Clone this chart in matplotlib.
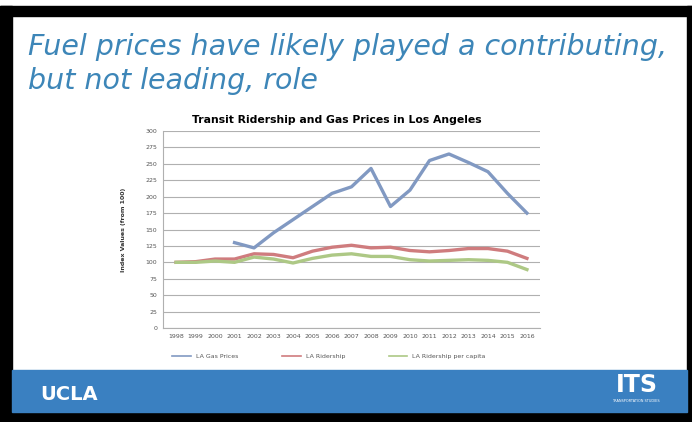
import matplotlib
matplotlib.use("Agg")
from matplotlib import pyplot as plt
from matplotlib.patches import Rectangle

years = list(range(1998, 2017))
gas_years = list(range(2001, 2017))
gas_prices = [130, 122, 145, 165, 185, 205, 215, 243, 185, 210, 255, 265, 252, 238, 205, 175]
ridership = [100, 101, 105, 105, 113, 112, 107, 117, 123, 126, 122, 123, 118, 116, 118, 121, 121, 117, 106]
per_capita = [100, 100, 102, 100, 108, 105, 99, 106, 111, 113, 109, 109, 104, 102, 103, 104, 103, 100, 89]
y_ticks = list(range(0, 301, 25))

W, H = 692, 422
fig = plt.figure(figsize=(W / 100, H / 100), dpi=100)
fig.patch.set_facecolor("white")

# slide frame
def box(x, y, w, h, color):
    fig.patches.append(Rectangle((x / W, 1 - (y + h) / H), w / W, h / H,
                                 transform=fig.transFigure, color=color, zorder=0))

box(0, 6, W, 10, "black")
box(0, 6, 12, H - 6, "black")
box(687, 6, 5, H - 6, "black")
box(0, 412, W, 10, "black")
box(12, 370, 675, 42, "#3a80c1")

# slide title
fig.text(28 / W, 1 - 47 / H, "Fuel prices have likely played a contributing,",
         fontsize=20.5, style="italic", color="#3d86b8", va="center", ha="left")
fig.text(28 / W, 1 - 81 / H, "but not leading, role",
         fontsize=20.5, style="italic", color="#3d86b8", va="center", ha="left")

# footer
fig.text(40 / W, 1 - 394 / H, "UCLA", fontsize=14, fontweight="bold", color="white",
         va="center", ha="left")
fig.text(658 / W, 1 - 385 / H, "ITS", fontsize=17, fontweight="bold", color="white",
         va="center", ha="right")
fig.text(660 / W, 1 - 401 / H, "TRANSPORTATION STUDIES", fontsize=2.5, color="white",
         va="center", ha="right")

ax = fig.add_axes([163 / W, 1 - 328 / H, (540 - 163) / W, (328 - 131) / H])
ax.plot(gas_years, gas_prices, color="#8199c2", lw=2.4, label="LA Gas Prices")
ax.plot(years, ridership, color="#cf7c7e", lw=2.4, label="LA Ridership")
ax.plot(years, per_capita, color="#adc885", lw=2.4, label="LA Ridership per capita")

ax.set_xlim(1998 - 0.67, 2016 + 0.67)
ax.set_ylim(0, 300)
ax.set_yticks(y_ticks)
ax.set_xticks(years)
ax.set_xticklabels([str(y) for y in years])
ax.tick_params(labelsize=4.5, colors="#555555", length=0, pad=4)
ax.grid(axis="y", color="#b0b0b0", lw=0.8)
ax.set_axisbelow(True)
for s in ["top", "right"]:
    ax.spines[s].set_visible(False)
ax.spines["left"].set_color("#b0b0b0")
ax.spines["bottom"].set_color("#b0b0b0")
ax.set_ylabel("Index Values (from 100)", fontsize=4.5, fontweight="bold", color="#333333", labelpad=14)
ax.set_title("Transit Ridership and Gas Prices in Los Angeles", fontsize=7.8,
             fontweight="bold", pad=6, x=0.46)
leg = ax.legend(loc="upper center", bbox_to_anchor=(0.44, -0.1), ncol=3, frameon=False,
                fontsize=4.5, handlelength=3, columnspacing=7, labelcolor="#555555")
for line in leg.get_lines():
    line.set_linewidth(1.2)

fig.savefig("out.png", dpi=100)
